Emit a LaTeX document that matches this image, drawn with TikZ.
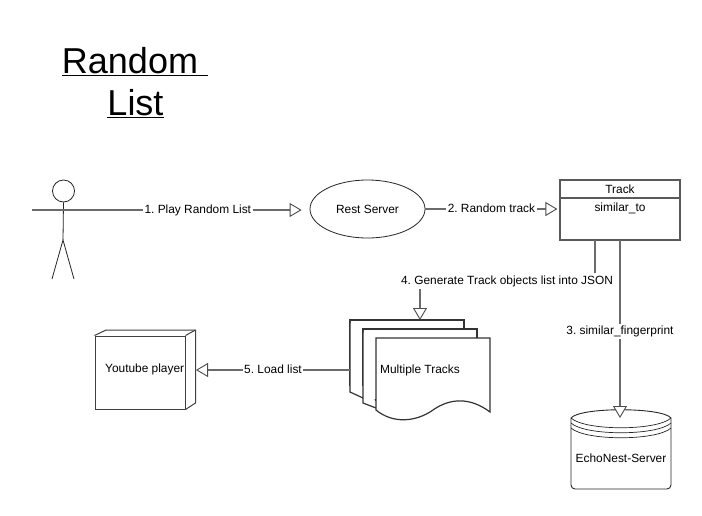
\documentclass[tikz,border=0pt]{standalone}
\usepackage{fontspec}
\setmainfont{Liberation Sans}
\frenchspacing
\usetikzlibrary{arrows.meta,shapes.geometric}
\begin{document}
\begin{tikzpicture}[x=1pt,y=-1pt,
  lbl/.style={font=\fontsize{11.9}{13}\selectfont,text=black,inner sep=1.5pt,fill=white,text height=9pt,text depth=3pt},
  txt/.style={font=\fontsize{11.9}{13}\selectfont,text=black,inner sep=0pt},
  conn/.style={draw=black!58,line width=1.1pt,-{Triangle[open,length=12pt,width=14pt,line width=0.9pt,color=black!70,fill=white]}},
  plain/.style={draw=black!58,line width=1.1pt},
  thin line/.style={draw=black!85,line width=0.8pt},
  boxln/.style={draw=black!65,line width=1.2pt},
  pageln/.style={draw=black!80,line width=1.2pt,fill=white,line join=miter}]
\useasboundingbox (0,0) rectangle (702,515);
\fill[white] (0,0) rectangle (702,515);
% title
\node[font=\fontsize{36}{40}\selectfont,inner sep=0pt,anchor=base] (t1) at (135,73) {\underline{Random\ }};
\node[font=\fontsize{36}{40}\selectfont,inner sep=0pt,anchor=base] (t2) at (135.5,115) {\underline{List}};
% actor
\node[circle,thin line,minimum size=22pt,inner sep=0pt] (head) at (63.5,191) {};
\coordinate (armL) at (32,210);
\coordinate (armR) at (94,210);
\coordinate (hip) at (63,240);
\coordinate (legL) at (52,279);
\coordinate (legR) at (74,279);
\draw[thin line] (head.south) -- (hip);
\draw[thin line] (legL) -- (hip) -- (legR);
\draw[plain] (armL) -- (armR);
% rest server
\node[ellipse,draw=black!85,line width=0.8pt,minimum width=115pt,minimum height=58pt,inner sep=0pt,txt] (rest) at (367.5,209) {Rest Server};
% track
\node[rectangle,boxln,fill=white,minimum width=120pt,minimum height=60pt,inner sep=0pt] (track) at (620,210) {};
\coordinate (sepL) at (560,198);
\coordinate (sepR) at (680,198);
\draw[boxln] (sepL) -- (sepR);
\node[txt,anchor=base] (trackname) at (620,193.5) {Track};
\node[txt,anchor=base] (trackattr) at (620,211) {similar\_to};
\coordinate (t4) at (595,240);
\coordinate (t3) at (620,240);
% documents
\draw[pageln] (350,320) -- (464,320) -- (464,392) -- (350,392) -- cycle;
\draw[pageln] (363,329) -- (477,329) -- (477,400) -- (363,400) -- cycle;
\fill[white] (349,386) rectangle (366,410);
\draw[pageln] (350,320) -- (350,392) -- (363,398);
\draw[pageln] (363,329) -- (363,403) -- (376,408);
\draw[pageln] (376,338) -- (490,338) -- (490,412)
  .. controls (470,397) and (450,398) .. (433,410)
  .. controls (416,422) and (393,424) .. (376,410) -- cycle;
\node[txt,anchor=west] (docs) at (380,370) {Multiple Tracks};
\coordinate (docsTop) at (420,320);
\coordinate (docsLeft) at (350,370);
% cube
\node[rectangle,draw=black!75,line width=1pt,minimum width=90pt,minimum height=73pt,inner sep=0pt] (cube) at (140,372.5) {};
\draw[draw=black!75,line width=1pt] (cube.north west) -- (106,330) -- (195.5,330) -- (195.5,403) -- (cube.south east);
\draw[draw=black!75,line width=1pt] (cube.north east) -- (195.5,330);
\node[txt,anchor=west] (yt) at (105,369.5) {Youtube player};
\coordinate (cubeR) at (196,370);
% database
\draw[draw=black!85,line width=0.9pt,fill=white] (571,418) .. controls (580,407) and (662,407) .. (671,418)
  -- (671,485) arc[start angle=0,end angle=90,radius=4] -- (575,489) arc[start angle=90,end angle=180,radius=4] -- cycle;
\draw[draw=black!85,line width=0.7pt] (571,418) .. controls (585,431) and (657,431) .. (671,418);
\draw[draw=black!85,line width=0.7pt] (571,423) .. controls (585,436) and (657,436) .. (671,423);
\draw[draw=black!85,line width=0.7pt] (571,428) .. controls (585,441) and (657,441) .. (671,428);
\node[txt] (db) at (621,458) {EchoNest-Server};
\coordinate (dbTop) at (620,418);
% connectors
\draw[conn] (armR) -- node[lbl,pos=0.5] {1. Play Random List} ([xshift=-8pt]rest.west |- armR);
\draw[conn] (rest.east) -- node[lbl,pos=0.5] {2. Random track} ([xshift=-2pt]track.west |- rest.east);
\node[lbl] (l4) at (507,281) {4. Generate Track objects list into JSON};
\draw[plain] (t4) -- (t4 |- l4.north);
\draw[conn] (docsTop |- l4.south) -- (docsTop);
\draw[conn] (t3) -- node[lbl,pos=0.5,yshift=-2pt] {3. similar\_fingerprint} (dbTop);
\draw[conn] (docsLeft) -- node[lbl,pos=0.5] {5. Load list} (cubeR);
\end{tikzpicture}
\end{document}
